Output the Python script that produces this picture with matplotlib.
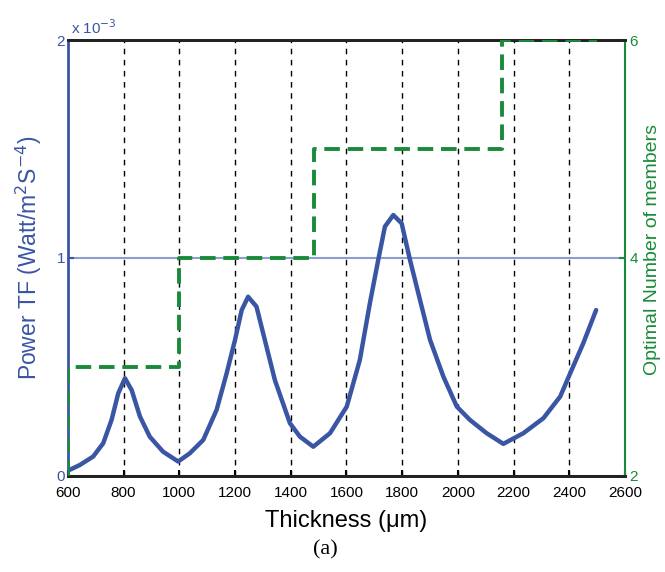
import matplotlib.pyplot as plt
from matplotlib.ticker import FuncFormatter

# Power TF curve (values in units of 1e-3)
thickness = [607, 643, 691, 727, 757, 781, 805, 829, 859, 894, 942, 996,
             1038, 1086, 1134, 1170, 1200, 1224, 1247, 1277, 1307, 1343,
             1397, 1433, 1481, 1541, 1601, 1648, 1684, 1714, 1738, 1768,
             1798, 1828, 1864, 1900, 1948, 1996, 2043, 2103, 2163, 2235,
             2307, 2367, 2403, 2450, 2496]
power_tf = [0.028, 0.050, 0.089, 0.150, 0.257, 0.379, 0.448, 0.394, 0.272,
            0.180, 0.111, 0.066, 0.104, 0.165, 0.303, 0.471, 0.624, 0.761,
            0.822, 0.777, 0.624, 0.440, 0.242, 0.180, 0.134, 0.196, 0.318,
            0.532, 0.792, 0.991, 1.144, 1.197, 1.159, 0.991, 0.807, 0.624,
            0.455, 0.318, 0.257, 0.196, 0.147, 0.196, 0.265, 0.364, 0.471,
            0.609, 0.761]

# Optimal number of members (step)
step_x = [600, 600, 1000, 1000, 1483, 1483, 2157, 2157, 2500]
step_n = [2, 3, 3, 4, 4, 5, 5, 6, 6]

xticks = [600, 800, 1000, 1200, 1400, 1600, 1800, 2000, 2200, 2400, 2600]

blue = '#3a55a4'
green = '#1a8a3a'

plt.rcParams['font.family'] = ['Liberation Sans', 'DejaVu Sans']

fig = plt.figure(figsize=(6.65, 5.72), dpi=100)
ax1 = fig.add_axes([0.102, 0.168, 0.838, 0.762])
ax2 = ax1.twinx()

ax1.plot(thickness, [v * 1e-3 for v in power_tf], color=blue, lw=3.2,
         zorder=3, solid_joinstyle='round', solid_capstyle='round')
ax2.plot(step_x, step_n, color=green, lw=2.8, linestyle=(0, (4, 2)), zorder=3)

ax1.set_xlim(600, 2600)
ax1.set_ylim(0, 2e-3)
ax2.set_ylim(2, 6)

ax1.set_xticks(xticks)
ax1.set_yticks([0, 1e-3, 2e-3])
ax1.yaxis.set_major_formatter(FuncFormatter(lambda v, p: '%g' % (v * 1e3)))
ax2.set_yticks([2, 4, 6])

# vertical dashed grid
for t in xticks[1:-1]:
    ax1.axvline(t, color='black', lw=1, linestyle=(0, (4, 4)), zorder=1)
ax1.yaxis.grid(True, color='#8c9ed0', lw=1.5, linestyle='-')
ax1.set_axisbelow(True)

ax1.tick_params(axis='x', direction='in', length=4, labelsize=11, width=1.5,
                pad=7)
ax1.tick_params(axis='y', direction='in', length=4, colors=blue, labelsize=11,
                width=1.5, pad=2)
ax2.tick_params(direction='in', length=4, labelsize=11, colors=green,
                width=1.5, pad=3)

for a in (ax1, ax2):
    a.spines['top'].set_color('#222222')
    a.spines['bottom'].set_color('#222222')
    a.spines['top'].set_linewidth(2)
    a.spines['bottom'].set_linewidth(2)
ax1.spines['left'].set_color(blue)
ax1.spines['left'].set_linewidth(2)
ax2.spines['left'].set_visible(False)
ax2.spines['right'].set_color(green)
ax2.spines['right'].set_linewidth(1.5)
ax1.spines['right'].set_visible(False)

ax1.text(0.005, 1.008, r'x 10$^{-3}$', transform=ax1.transAxes, color=blue,
         fontsize=11, ha='left', va='bottom')

ax1.set_xlabel(u'Thickness (\u03bcm)', fontsize=17)
ax1.xaxis.set_label_coords(0.5, -0.078)
ax1.set_ylabel(r'Power TF (Watt/m$^2$S$^{-4}$)', fontsize=16.5, color=blue)
ax1.yaxis.set_label_coords(-0.042, 0.5)
ax2.set_ylabel('Optimal Number of members', fontsize=14, color=green)
ax2.yaxis.set_label_coords(1.034, 0.52)

fig.text(0.49, 0.038, '(a)', fontsize=16, family='Liberation Serif',
         ha='center', va='center')

fig.savefig('out.png', dpi=100)
